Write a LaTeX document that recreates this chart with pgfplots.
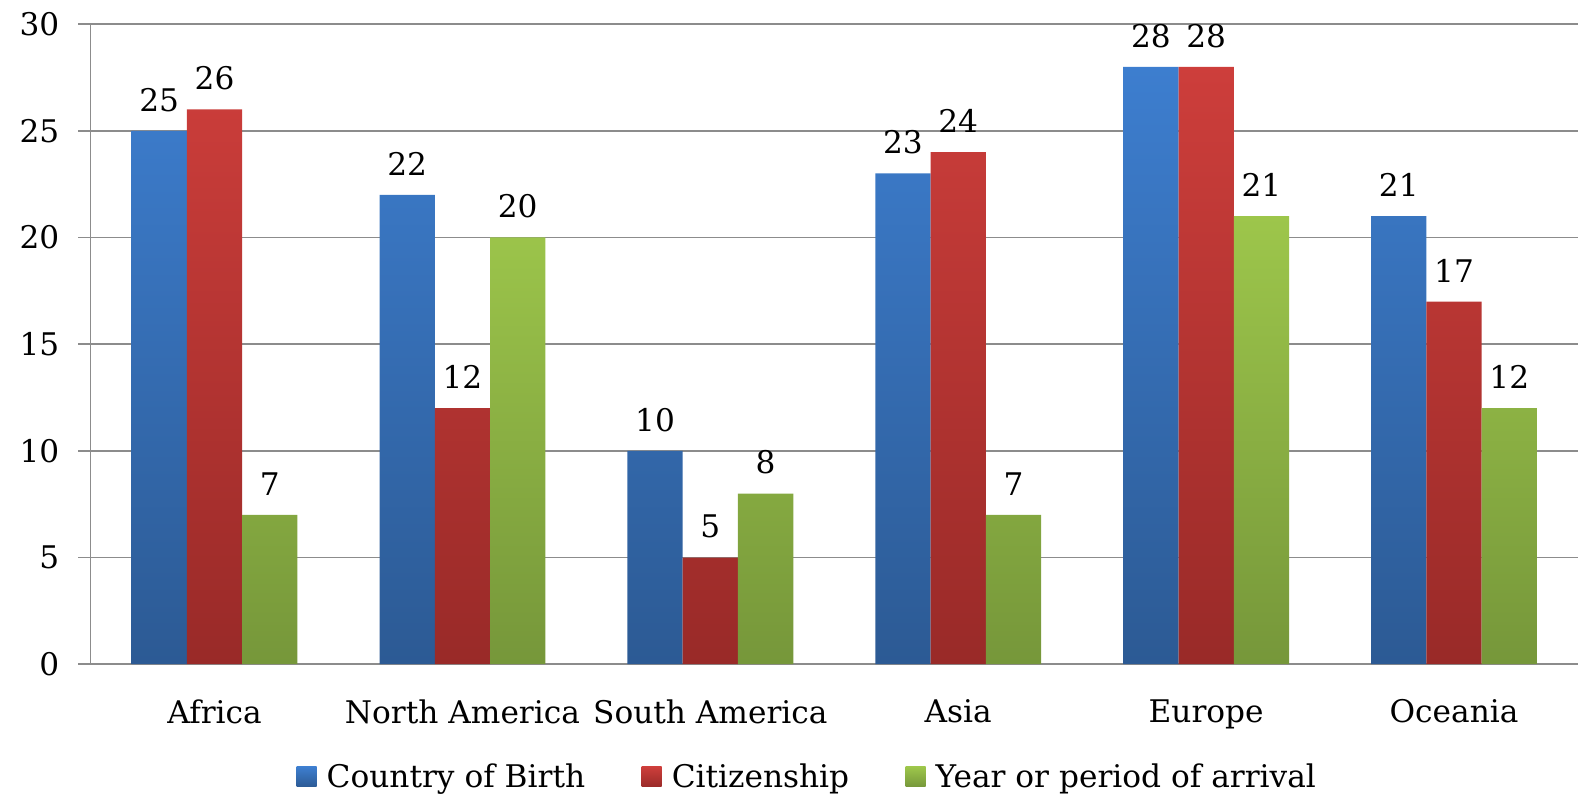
\documentclass[border=0pt]{standalone}
\usepackage{pgfplots}
\pgfplotsset{compat=1.18}
\usepackage{fontspec}
\setmainfont{DejaVu Serif}

\definecolor{bluetop}{HTML}{3D7ECF}
\definecolor{bluebot}{HTML}{2C5A94}
\definecolor{redtop}{HTML}{CD3E3B}
\definecolor{redbot}{HTML}{992A28}
\definecolor{greentop}{HTML}{9DC64B}
\definecolor{greenbot}{HTML}{76973A}
\definecolor{gridgray}{HTML}{8C8C8C}

\begin{document}
\begin{tikzpicture}
\begin{axis}[
    scale only axis,
    width=739pt, height=318pt,
    ybar=0pt, bar width=0.223,
    xmin=-0.5, xmax=5.5,
    ymin=0, ymax=30,
    ytick={0,5,...,30},
    xtick={0,...,5},
    xticklabels={Africa, North America, South America, Asia, Europe, Oceania},
    minor xtick={-0.5,0.5,...,5.5},
    axis lines=left,
    axis line style={gridgray, line width=0.8pt, -},
    ymajorgrids,
    grid style={gridgray, line width=0.8pt},
    tick align=outside,
    major tick length=6pt,
    minor tick length=7.5pt,
    xtick style={draw=none},
    minor x tick style={gridgray, line width=0.8pt},
    ytick style={gridgray, line width=0.8pt},
    tick label style={font=\fontsize{15.5}{18}\selectfont, text=black},
    /pgf/number format/assume math mode=true,
    yticklabel style={xshift=-6pt},
    xticklabel style={yshift=-8pt},
    nodes near coords,
    every node near coord/.append style={font=\fontsize{15.5}{18}\selectfont, text=black, yshift=6pt},
    legend columns=3,
    legend style={draw=none, at={(0.4825,0)}, anchor=center, yshift=-56pt,
        font=\fontsize{15.5}{18}\selectfont,
        /tikz/every even column/.append style={column sep=26pt}},
    legend image code/.code={\path[#1] (0pt,-5pt) rectangle (10pt,5pt); \path (0pt,0pt) (13pt,0pt);},
]
\addplot[draw=none, top color=bluetop, bottom color=bluebot] coordinates {(0,25) (1,22) (2,10) (3,23) (4,28) (5,21)};
\addplot[draw=none, top color=redtop, bottom color=redbot] coordinates {(0,26) (1,12) (2,5) (3,24) (4,28) (5,17)};
\addplot[draw=none, top color=greentop, bottom color=greenbot] coordinates {(0,7) (1,20) (2,8) (3,7) (4,21) (5,12)};
\legend{Country of Birth, Citizenship, Year or period of arrival}
\end{axis}
\pgfresetboundingbox
\path (-45pt,-68pt) rectangle (739pt,330pt);
\end{tikzpicture}
\end{document}
